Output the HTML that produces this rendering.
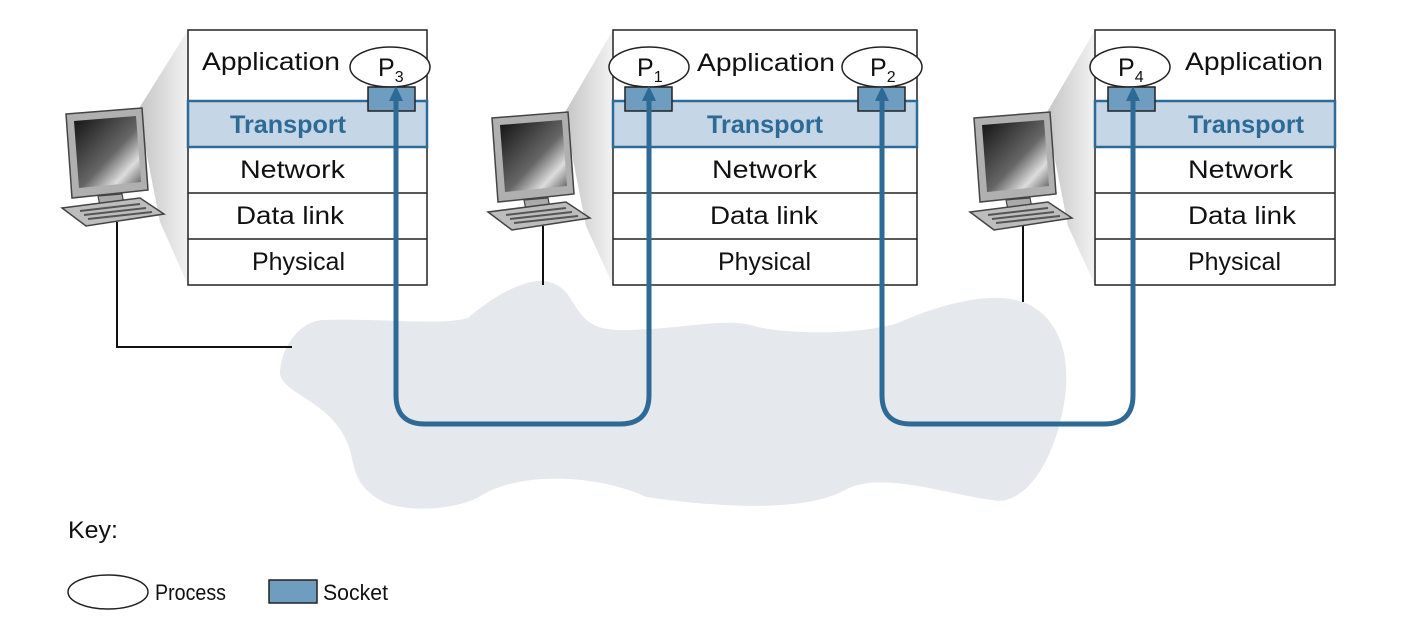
<!DOCTYPE html>
<html><head><meta charset="utf-8"><style>
html,body{margin:0;padding:0;background:#fff;}
svg{display:block;font-family:"Liberation Sans",sans-serif;}
</style></head><body>
<svg width="1408" height="632" viewBox="0 0 1408 632" xmlns="http://www.w3.org/2000/svg">
<defs>
<linearGradient id="sh" x1="0" y1="0" x2="1" y2="0">
<stop offset="0" stop-color="#c4c4c4"/><stop offset="1" stop-color="#f2f2f2"/></linearGradient>
<linearGradient id="scr" x1="0" y1="0" x2="1" y2="1">
<stop offset="0" stop-color="#111"/><stop offset="0.55" stop-color="#666"/><stop offset="0.78" stop-color="#ddd"/><stop offset="1" stop-color="#555"/></linearGradient>
<g id="mon">
<polygon points="4,6 80,0 86,82 10,90" fill="#b0b0b0" stroke="#444" stroke-width="1.5"/>
<polygon points="12,13 74,8 79,74 17,80" fill="url(#scr)"/>
<polygon points="36,88 60,86 62,96 38,98" fill="#aaa" stroke="#444" stroke-width="1.2"/>
<polygon points="0,100 78,90 102,106 24,118" fill="#bdbdbd" stroke="#444" stroke-width="1.5"/>
<line x1="18" y1="103" x2="78" y2="96" stroke="#555" stroke-width="2"/>
<line x1="22" y1="107" x2="84" y2="100" stroke="#555" stroke-width="2"/>
<line x1="26" y1="111" x2="90" y2="104" stroke="#555" stroke-width="2"/>
</g>
</defs>

<path d="M280,372 C282,345 300,322 322,320 C380,318 440,326 468,318 C500,290 535,275 552,283 C580,292 570,330 620,330 C680,330 720,318 751,325 C780,335 860,335 898,323 C950,300 1000,290 1030,305 C1075,330 1070,390 1058,430 C1040,490 1010,505 992,500 C950,495 880,470 845,490 C800,515 700,505 646,497 C600,475 520,470 479,497 C450,512 400,512 380,500 C355,485 355,470 350,450 C335,400 280,395 280,372 Z" fill="#e5e8ec"/>

<polygon points="138,110 188,30 188,285 160,222" fill="url(#sh)"/>
<polygon points="564,114 613,30 613,285 586,226" fill="url(#sh)"/>
<polygon points="1046,114 1095,30 1095,285 1068,226" fill="url(#sh)"/>

<polyline points="117,222 117,347 292,347" fill="none" stroke="#111" stroke-width="2"/>
<line x1="543" y1="226" x2="543" y2="285" stroke="#111" stroke-width="2"/>
<line x1="1023" y1="226" x2="1023" y2="302" stroke="#111" stroke-width="2"/>

<use href="#mon" x="62" y="108"/>
<use href="#mon" x="488" y="112"/>
<use href="#mon" x="970" y="112"/>

<g stroke="#222" stroke-width="1.5" fill="#fff">
<rect x="188" y="30" width="239" height="255"/>
<rect x="613" y="30" width="304" height="255"/>
<rect x="1095" y="30" width="240" height="255"/>
<line x1="188" y1="193" x2="427" y2="193"/><line x1="188" y1="239" x2="427" y2="239"/>
<line x1="613" y1="193" x2="917" y2="193"/><line x1="613" y1="239" x2="917" y2="239"/>
<line x1="1095" y1="193" x2="1335" y2="193"/><line x1="1095" y1="239" x2="1335" y2="239"/>
</g>
<g fill="#c5d6e6" stroke="#2e6a96" stroke-width="2.5">
<rect x="188" y="101" width="239" height="46"/>
<rect x="613" y="101" width="304" height="46"/>
<rect x="1095" y="101" width="240" height="46"/>
</g>

<g font-size="25" fill="#111" lengthAdjust="spacingAndGlyphs">
<text x="202" y="70" textLength="138" lengthAdjust="spacingAndGlyphs">Application</text>
<text x="697" y="71" textLength="138" lengthAdjust="spacingAndGlyphs">Application</text>
<text x="1185" y="70" textLength="138" lengthAdjust="spacingAndGlyphs">Application</text>
<text x="240" y="178" textLength="105" lengthAdjust="spacingAndGlyphs">Network</text>
<text x="236" y="224" textLength="108" lengthAdjust="spacingAndGlyphs">Data link</text>
<text x="252" y="270" textLength="93" lengthAdjust="spacingAndGlyphs">Physical</text>
<text x="712" y="178" textLength="105" lengthAdjust="spacingAndGlyphs">Network</text>
<text x="710" y="224" textLength="108" lengthAdjust="spacingAndGlyphs">Data link</text>
<text x="718" y="270" textLength="93" lengthAdjust="spacingAndGlyphs">Physical</text>
<text x="1188" y="178" textLength="105" lengthAdjust="spacingAndGlyphs">Network</text>
<text x="1188" y="224" textLength="108" lengthAdjust="spacingAndGlyphs">Data link</text>
<text x="1188" y="270" textLength="93" lengthAdjust="spacingAndGlyphs">Physical</text>
</g>
<g font-size="25" font-weight="bold" fill="#2e6a96">
<text x="230" y="133" textLength="116" lengthAdjust="spacingAndGlyphs">Transport</text>
<text x="707" y="133" textLength="116" lengthAdjust="spacingAndGlyphs">Transport</text>
<text x="1188" y="133" textLength="116" lengthAdjust="spacingAndGlyphs">Transport</text>
</g>

<g fill="#fff" stroke="#222" stroke-width="1.5">
<ellipse cx="390" cy="67" rx="40" ry="20"/>
<ellipse cx="649" cy="67" rx="40" ry="20"/>
<ellipse cx="882" cy="67" rx="40" ry="20"/>
<ellipse cx="1130" cy="67" rx="40" ry="20"/>
</g>
<g font-size="25" fill="#111">
<text x="378" y="76">P<tspan font-size="16" dy="6">3</tspan></text>
<text x="637" y="76">P<tspan font-size="16" dy="6">1</tspan></text>
<text x="870" y="76">P<tspan font-size="16" dy="6">2</tspan></text>
<text x="1118" y="76">P<tspan font-size="16" dy="6">4</tspan></text>
</g>
<g fill="#6f9dbf" stroke="#222" stroke-width="1.5">
<rect x="368" y="87" width="47" height="24"/>
<rect x="625" y="87" width="47" height="24"/>
<rect x="858" y="87" width="47" height="24"/>
<rect x="1108" y="87" width="47" height="24"/>
</g>

<g fill="none" stroke="#2e6a96" stroke-width="5">
<path d="M396,96 L396,395 Q396,424 425,424 L620,424 Q649,424 649,395 L649,96"/>
<path d="M882,96 L882,395 Q882,424 911,424 L1104,424 Q1133,424 1133,395 L1133,96"/>
</g>
<g fill="#2e6a96">
<polygon points="396,86 389,101 403,101"/>
<polygon points="649,86 642,101 656,101"/>
<polygon points="882,86 875,101 889,101"/>
<polygon points="1133,86 1126,101 1140,101"/>
</g>

<text x="68" y="538" font-size="24" fill="#111" textLength="50" lengthAdjust="spacingAndGlyphs">Key:</text>
<ellipse cx="108" cy="592" rx="40" ry="17" fill="#fff" stroke="#222" stroke-width="1.5"/>
<text x="155" y="600" font-size="22" fill="#111" textLength="71" lengthAdjust="spacingAndGlyphs">Process</text>
<rect x="269" y="580" width="48" height="23" fill="#6f9dbf" stroke="#222" stroke-width="1.5"/>
<text x="323" y="600" font-size="22" fill="#111" textLength="65" lengthAdjust="spacingAndGlyphs">Socket</text>
</svg>
</body></html>
